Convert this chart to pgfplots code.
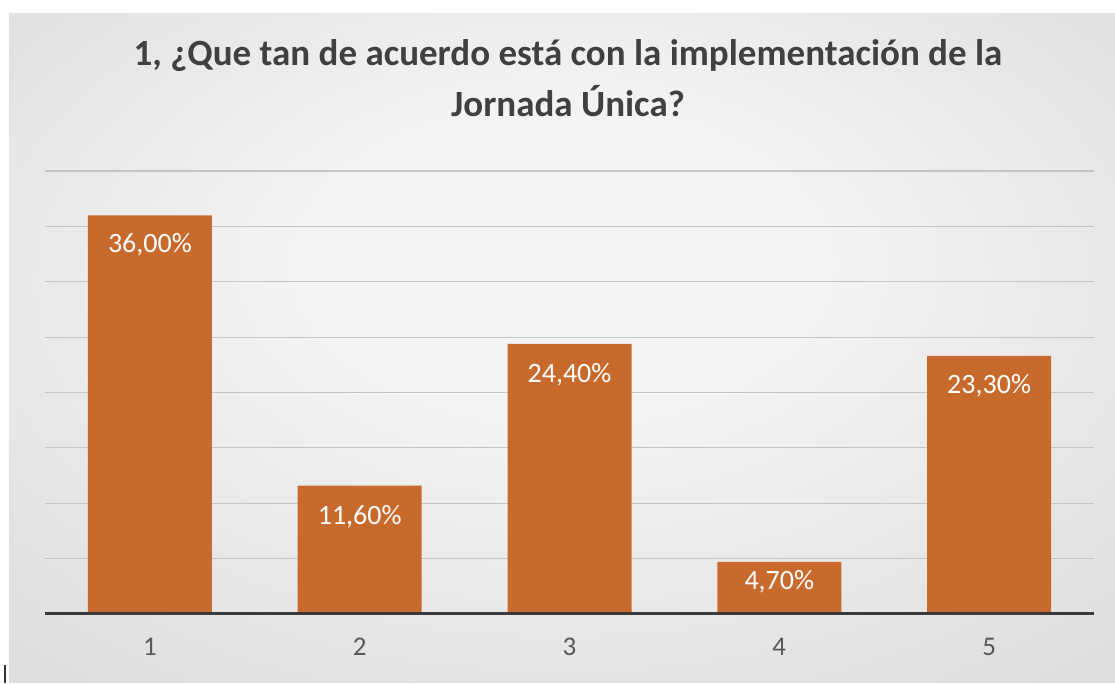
\documentclass[border=0pt]{standalone}
\usepackage{pgfplots}
\pgfplotsset{compat=1.18}
\usepackage{fontspec}
\setmainfont{Carlito}
\definecolor{barc}{HTML}{C96A2D}
\definecolor{titlec}{HTML}{404040}
\definecolor{tickc}{HTML}{595959}
\definecolor{gridc}{HTML}{C4C4C4}
\definecolor{basec}{HTML}{3A3A3A}
\definecolor{bgin}{HTML}{F3F3F3}
\definecolor{bgout}{HTML}{C9C9C9}
\pgfdeclareradialshading{bgshade}{\pgfpoint{0bp}{8bp}}{color(0bp)=(bgin); color(12bp)=(bgin); color(60bp)=(bgout)}
\begin{document}
\begin{tikzpicture}[x=0.5pt,y=0.5pt]
\fill[white] (0,0) rectangle (1115,683);
\shade[shading=bgshade] (9,0) rectangle (1115,669);
\draw[black!80, line width=1pt] (5,0) -- (5,18);
\begin{axis}[
  at={(22.5pt,34.5pt)}, anchor=south west,
  scale only axis, width=524.5pt, height=221.5pt,
  xmin=0.5, xmax=5.5, ymin=0, ymax=40,
  xtick={1,2,3,4,5}, ytick={0,5,...,40}, yticklabels={},
  /pgf/number format/assume math mode=true,
  major tick length=0pt,
  axis line style={draw=none},
  ymajorgrids, grid style={draw=gridc, line width=0.6pt},
  xticklabel style={font=\fontsize{13.5}{15}\selectfont, text=tickc, anchor=north, yshift=-8.5pt},
  clip=false,
]
\addplot[ybar, bar width=62pt, bar shift=0pt, fill=barc, draw=none]
  coordinates {(1,36.0) (2,11.6) (3,24.4) (4,4.7) (5,23.3)};
\addplot[draw=none, mark=none, nodes near coords, point meta=explicit symbolic,
  every node near coord/.style={anchor=base, inner sep=0pt, text=white, font=\fontsize{14}{16}\selectfont}]
  coordinates {(1,32.6)[36,00\%] (2,8.04)[11,60\%] (3,20.86)[24,40\%] (4,2.17)[4,70\%] (5,19.95)[23,30\%]};
\draw[basec, line width=1.5pt] (axis cs:0.5,0) -- (axis cs:5.5,0);
\end{axis}
\node[anchor=base, text=titlec, font=\bfseries\fontsize{18.5}{22}\selectfont] at (568,617) {1, ¿Que tan de acuerdo está con la implementación de la};
\node[anchor=base, text=titlec, font=\bfseries\fontsize{18.5}{22}\selectfont] at (568,566) {Jornada Única?};
\end{tikzpicture}
\end{document}
